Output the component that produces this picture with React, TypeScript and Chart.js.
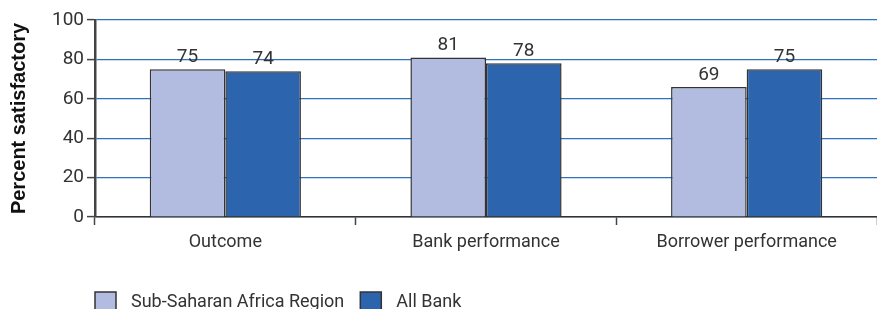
import React, { useEffect, useRef } from "react";
import { Chart, registerables } from "chart.js";

Chart.register(...registerables);

const categories = ["Outcome", "Bank performance", "Borrower performance"];
const seriesNames = ["Sub-Saharan Africa Region", "All Bank"];
const ssaValues = [75, 81, 66];
const allBankValues = [74, 78, 75];
const ssaLabels = ["75", "81", "69"];
const allBankLabels = ["74", "78", "75"];
const yTicks = [0, 20, 40, 60, 80, 100];

const NARROW = "Roboto, 'Liberation Sans Narrow', sans-serif";
const TEXT = "#333333";
const FS = 18;

const valueLabelPlugin = {
  id: "valueLabels",
  afterDatasetsDraw(chart: any) {
    const ctx = chart.ctx;
    const allLabels = [ssaLabels, allBankLabels];
    ctx.save();
    ctx.font = `${FS + 1}px ${NARROW}`;
    ctx.fillStyle = TEXT;
    ctx.textAlign = "center";
    ctx.textBaseline = "alphabetic";
    chart.data.datasets.forEach((ds: any, di: number) => {
      const meta = chart.getDatasetMeta(di);
      meta.data.forEach((bar: any, i: number) => {
        ctx.fillText(allLabels[di][i], bar.x, bar.y - 7);
      });
    });
    ctx.restore();
  },
};

const customLegendPlugin = {
  id: "customLegend",
  afterDraw(chart: any) {
    const ctx = chart.ctx;
    ctx.save();
    ctx.font = `${FS}px ${NARROW}`;
    ctx.textBaseline = "alphabetic";
    ctx.textAlign = "left";
    let x = chart.chartArea.left;
    const boxTop = 292;
    const boxW = 21;
    const boxH = 22;
    chart.data.datasets.forEach((ds: any) => {
      ctx.fillStyle = ds.backgroundColor;
      ctx.fillRect(x, boxTop, boxW, boxH);
      ctx.strokeStyle = "#333";
      ctx.lineWidth = 1.5;
      ctx.strokeRect(x, boxTop, boxW, boxH);
      ctx.fillStyle = TEXT;
      const tx = x + boxW + 15;
      ctx.fillText(ds.label, tx, 307);
      x = tx + ctx.measureText(ds.label).width + 16;
    });
    ctx.restore();
  },
};

export default function App() {
  const ref = useRef<HTMLCanvasElement | null>(null);
  useEffect(() => {
    if (!ref.current) return;
    const chart = new Chart(ref.current, {
      type: "bar",
      data: {
        labels: categories,
        datasets: [
          {
            label: seriesNames[0],
            data: ssaValues,
            backgroundColor: "#b2bce0",
            borderColor: "#333333",
            borderWidth: 1.5,
            barPercentage: 1,
            categoryPercentage: 0.58,
          },
          {
            label: seriesNames[1],
            data: allBankValues,
            backgroundColor: "#2c65ae",
            borderColor: "#333333",
            borderWidth: 1.5,
            barPercentage: 1,
            categoryPercentage: 0.58,
          },
        ],
      },
      options: {
        animation: false,
        responsive: false,
        maintainAspectRatio: false,
        layout: { padding: { top: 20, right: 0, left: 0, bottom: 0 } },
        plugins: {
          legend: { display: false },
          tooltip: { enabled: false },
        },
        scales: {
          x: {
            grid: {
              offset: true,
              drawOnChartArea: false,
              tickLength: 8,
              tickColor: "#444",
              tickWidth: 1.5,
            },
            border: { color: "#333", width: 1.5 },
            ticks: {
              font: { family: NARROW, size: FS },
              color: TEXT,
              padding: 7,
              maxRotation: 0,
            },
            afterFit(scale: any) {
              scale.height = 92;
            },
          },
          y: {
            min: 0,
            max: 100,
            afterBuildTicks(scale: any) {
              scale.ticks = yTicks.map((v) => ({ value: v }));
            },
            grid: {
              color: "#2f72bb",
              lineWidth: 1.2,
              tickLength: 8,
              tickColor: "#444",
              tickWidth: 1.5,
            },
            border: { color: "#444", width: 2.5 },
            ticks: {
              font: { family: NARROW, size: FS + 1 },
              color: TEXT,
              padding: 3,
            },
            title: {
              display: true,
              text: "Percent satisfactory",
              font: { family: "'Liberation Sans', Arial, sans-serif", size: 20, weight: "bold" },
              color: "#111",
              padding: { top: 7, bottom: 0 },
            },
            afterFit(scale: any) {
              scale.width = 95;
            },
          },
        },
      },
      plugins: [valueLabelPlugin, customLegendPlugin],
    });
    return () => chart.destroy();
  }, []);
  return (
    <div style={{ position: "absolute", left: 0, top: 0, width: 877, height: 309, background: "#fff" }}>
      <canvas ref={ref} width={877} height={309} style={{ display: "block" }} />
    </div>
  );
}
